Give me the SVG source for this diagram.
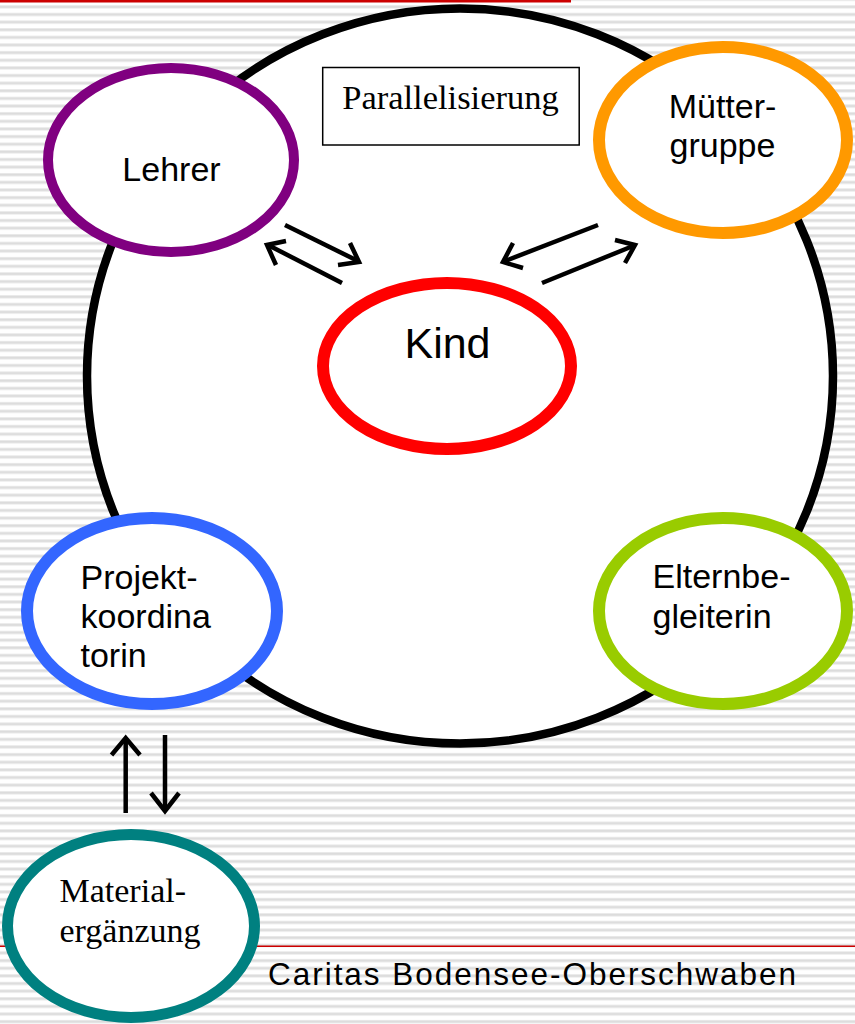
<svg xmlns="http://www.w3.org/2000/svg" width="855" height="1024" viewBox="0 0 855 1024">
  <defs>
    <pattern id="stripes" x="0" y="3.2" width="855" height="7.63" patternUnits="userSpaceOnUse">
      <rect x="0" y="0" width="855" height="7.63" fill="#ffffff"/>
      <rect x="0" y="2" width="855" height="3.5" fill="#eeeeee"/>
      <rect x="0" y="2.6" width="855" height="2" fill="#dcdcdc"/>
    </pattern>
    <style>
      .node { fill: #ffffff; }
      .sans { font-family: "Liberation Sans", Arial, sans-serif; fill: #000000; }
      .serif { font-family: "Liberation Serif", "Times New Roman", serif; fill: #000000; }
      .conn { fill: none; stroke: #000000; stroke-width: 4.5; stroke-linejoin: miter; stroke-linecap: butt; }
    </style>
  </defs>

  <!-- background -->
  <rect x="0" y="0" width="855" height="1024" fill="url(#stripes)"/>
  <rect x="0" y="0" width="571" height="2.5" fill="#cc0000"/>
  <rect x="0" y="945.5" width="855" height="1.5" fill="#cc0000"/>

  <!-- main circle -->
  <g id="main-circle">
    <ellipse cx="460" cy="376" rx="373" ry="367.5" fill="#ffffff" stroke="#000000" stroke-width="8.5"/>
  </g>

  <g id="parallelisierung">
    <rect x="322.7" y="67.5" width="256.5" height="77.5" fill="#ffffff" stroke="#000000" stroke-width="1.5"/>
    <text class="serif" x="450.5" y="109" font-size="34.5" text-anchor="middle">Parallelisierung</text>
  </g>

  <g id="connectors">
    <!-- Lehrer -> Kind -->
    <path class="conn" d="M285,225 L358,261"/>
    <path class="conn" d="M350,243 L359,262 L338,265"/>
    <!-- Kind -> Lehrer -->
    <path class="conn" d="M342,283 L268,245"/>
    <path class="conn" d="M286,241 L267,245 L276,265"/>
    <!-- Muettergruppe -> Kind -->
    <path class="conn" d="M598,225 L505,261"/>
    <path class="conn" d="M513,243 L503,262 L523,268"/>
    <!-- Kind -> Muettergruppe -->
    <path class="conn" d="M542,283 L633,246"/>
    <path class="conn" d="M615,240 L635,245 L625,263"/>
    <!-- Materialergaenzung -> Projektkoordinatorin -->
    <path class="conn" d="M125.7,813 L125.7,739"/>
    <path class="conn" d="M111.5,755 L125.7,738 L140,755"/>
    <!-- Projektkoordinatorin -> Materialergaenzung -->
    <path class="conn" d="M165,735 L165,810"/>
    <path class="conn" d="M151,793 L165,811 L179,793"/>
  </g>

  <g id="lehrer">
    <ellipse class="node" cx="171" cy="160" rx="123" ry="92" stroke="#800080" stroke-width="10"/>
    <text class="sans" x="171.5" y="181" font-size="34" text-anchor="middle">Lehrer</text>
  </g>

  <g id="muettergruppe">
    <ellipse class="node" cx="723" cy="140" rx="124" ry="93" stroke="#ff9900" stroke-width="12"/>
    <text class="sans" x="722.5" y="118" font-size="34" text-anchor="middle">Mütter-</text>
    <text class="sans" x="722.5" y="157" font-size="34" text-anchor="middle">gruppe</text>
  </g>

  <g id="kind">
    <ellipse class="node" cx="447" cy="366" rx="124" ry="83" stroke="#ff0000" stroke-width="12"/>
    <text class="sans" x="447.5" y="358" font-size="43" text-anchor="middle">Kind</text>
  </g>

  <g id="projektkoordinatorin">
    <ellipse class="node" cx="152" cy="611" rx="125" ry="93" stroke="#3366ff" stroke-width="12"/>
    <text class="sans" x="80.5" y="589" font-size="34">Projekt-</text>
    <text class="sans" x="80.5" y="628" font-size="34">koordina</text>
    <text class="sans" x="80.5" y="667" font-size="34">torin</text>
  </g>

  <g id="elternbegleiterin">
    <ellipse class="node" cx="723" cy="611" rx="124" ry="93" stroke="#99cc00" stroke-width="12"/>
    <text class="sans" x="652.5" y="588" font-size="34">Elternbe-</text>
    <text class="sans" x="652.5" y="628" font-size="34">gleiterin</text>
  </g>

  <g id="materialergaenzung">
    <ellipse class="node" cx="131" cy="926" rx="123.5" ry="91.5" stroke="#008080" stroke-width="11"/>
    <text class="serif" x="59.5" y="902" font-size="34">Material-</text>
    <text class="serif" x="59.5" y="942" font-size="34">ergänzung</text>
  </g>

  <g id="footer">
    <text class="sans" x="268" y="985" font-size="31.5" textLength="528" lengthAdjust="spacing">Caritas Bodensee-Oberschwaben</text>
  </g>
</svg>
